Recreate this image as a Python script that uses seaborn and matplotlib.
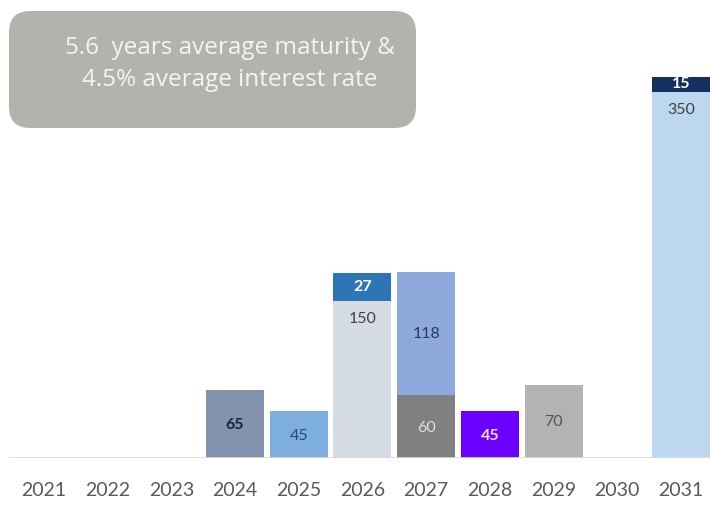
import matplotlib
matplotlib.use("Agg")
import matplotlib.pyplot as plt
from matplotlib.patches import FancyBboxPatch
import seaborn as sns
import pandas as pd

years = ["2021", "2022", "2023", "2024", "2025", "2026", "2027", "2028", "2029", "2030", "2031"]
base_values = [0, 0, 0, 65, 45, 150, 60, 45, 70, 0, 350]
top_values = [0, 0, 0, 0, 0, 27, 118, 0, 0, 0, 15]

base_colors = ["#d6dce5", "#d6dce5", "#d6dce5", "#8193ad", "#7eaedd", "#d6dce5",
               "#808080", "#6a00ff", "#b3b3b3", "#d6dce5", "#bdd7ee"]
top_colors = ["#d6dce5", "#d6dce5", "#d6dce5", "#8193ad", "#7eaedd", "#2e75b6",
              "#8eaadc", "#6a00ff", "#b3b3b3", "#d6dce5", "#14305c"]
base_text = ["#333", "#333", "#333", "#1c2535", "#2c4a6e", "#404040",
             "#e0e0e0", "#f0e6ff", "#555555", "#333", "#404040"]
top_text = ["#fff"] * 5 + ["#ffffff", "#2a3a5c", "#fff", "#fff", "#fff", "#ffffff"]

df = pd.DataFrame({"year": years, "base": base_values, "top": top_values})
df["total"] = df["base"] + df["top"]

sns.set_theme(style="white")
plt.rcParams["font.family"] = ["Lato", "DejaVu Sans"]

W, H, DPI = 710, 507, 100
fig = plt.figure(figsize=(W / DPI, H / DPI), dpi=DPI)
base_px = 458
ax = fig.add_axes([0, (H - base_px) / H, 1, base_px / H])

# stacked bars: full height in the upper colour, lower segment drawn over it
sns.barplot(data=df, x="year", y="total", hue="year",
            palette=dict(zip(years, top_colors)), width=0.91,
            legend=False, ax=ax, saturation=1, linewidth=0)
sns.barplot(data=df, x="year", y="base", hue="year",
            palette=dict(zip(years, base_colors)), width=0.91,
            legend=False, ax=ax, saturation=1, linewidth=0)

ax.set_xlim(-0.69, 10.455)
ax.set_ylim(0, base_px / 1.045)
ax.set_xlabel("")
ax.set_ylabel("")
ax.set_yticks([])
for s in ax.spines.values():
    s.set_visible(False)
ax.axhline(0, xmin=0.014, xmax=1, color="#d9d9d9", lw=1.2)
ax.tick_params(axis="x", length=0, pad=17, labelsize=14, labelcolor="#595959")

# value labels
for i, (b, t) in enumerate(zip(base_values, top_values)):
    if b == 0:
        continue
    if t > 0 and b > 100:
        # tall lower segment: label sits near its top
        ax.text(i, b - 17, str(b), ha="center", va="center", fontsize=11.5,
                color=base_text[i])
    else:
        ax.text(i, b / 2 - 1, str(b), ha="center", va="center", fontsize=11.5,
                color=base_text[i], fontweight="bold" if i in (3, 7) else "normal")
    if t > 0:
        ax.text(i, b + t / 2, str(t), ha="center", va="center", fontsize=11.5,
                color=top_text[i], fontweight="bold" if t < 50 else "normal")

# summary box
box = FancyBboxPatch((9 / W, 1 - 128 / H), (416 - 9) / W, (128 - 11) / H,
                     boxstyle="round,pad=0,rounding_size=0.03",
                     transform=fig.transFigure, facecolor="#b3b3ae",
                     edgecolor="none", mutation_aspect=W / H)
fig.patches.append(box)
fig.text(230 / W, 1 - 48 / H, "5.6  years average maturity &", ha="center",
         va="center", fontsize=17.5, color="#f4f4f0", family=["Open Sans", "DejaVu Sans"])
fig.text(230 / W, 1 - 80 / H, "4.5% average interest rate", ha="center",
         va="center", fontsize=17.5, color="#f4f4f0", family=["Open Sans", "DejaVu Sans"])

fig.savefig("out.png", dpi=DPI)
